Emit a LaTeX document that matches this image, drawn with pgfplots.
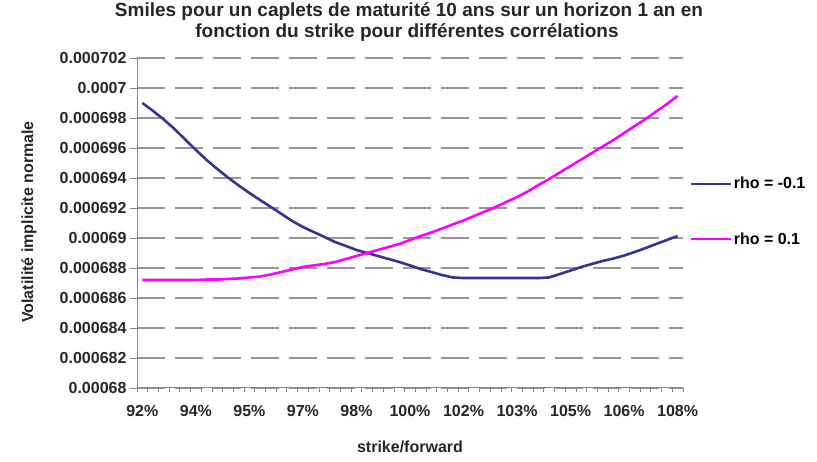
\documentclass[border=0pt]{standalone}
\usepackage{fontspec}
\setmainfont{Liberation Sans}
\usepackage{pgfplots}
\pgfplotsset{compat=1.18}
\definecolor{navyline}{RGB}{51,51,153}
\definecolor{pinkline}{RGB}{255,0,255}
\definecolor{gridgray}{RGB}{150,150,150}
\definecolor{axisgray}{RGB}{135,135,135}
\begin{document}
\begin{tikzpicture}[x=1pt,y=1pt]
\useasboundingbox (0,0) rectangle (817,462);
\begin{axis}[
  at={(137pt,74pt)}, anchor=south west,
  scale only axis, width=546pt, height=330pt,
  xmin=-0.5, xmax=50.5, ymin=0.00068, ymax=0.000702,
  scaled y ticks=false,
  axis x line=bottom, axis y line=left,
  axis line style={axisgray, line width=1pt, -},
  tick align=outside, major tick length=7pt, minor tick length=4pt,
  tick style={axisgray, line width=0.8pt},
  ytick={0.00068,0.000682,0.000684,0.000686,0.000688,0.00069,0.000692,0.000694,0.000696,0.000698,0.0007,0.000702},
  yticklabels={0.00068,0.000682,0.000684,0.000686,0.000688,0.00069,0.000692,0.000694,0.000696,0.000698,0.0007,0.000702},
  xtick={0,5,...,50},
  xticklabels={92\%,94\%,95\%,97\%,98\%,100\%,102\%,103\%,105\%,106\%,108\%},
  major x tick style={draw=none},
  minor xtick={-0.5,0.5,...,50.5},
  ymajorgrids,
  grid style={gridgray, line width=1.3pt, dash pattern=on 28pt off 10pt},
  ticklabel style={font=\fontsize{16}{18}\bfseries\selectfont, text=black!85},
  xticklabel style={yshift=-7pt},
  legend style={at={(1.0,0.535)}, anchor=west, xshift=6pt, draw=none, fill=none,
    font=\fontsize{16}{18}\bfseries\selectfont, row sep=38pt, inner sep=0pt},
  legend cell align=left,
  legend image code/.code={\draw[#1] (0pt,0pt) -- (40pt,0pt);},
  clip=false,
]
\addplot[navyline, line width=2.6pt] coordinates {
(0,0.0006990) (1,0.00069847) (2,0.0006979) (3,0.00069727) (4,0.00069657)
(5,0.00069587) (6,0.0006952) (7,0.0006946) (8,0.00069403) (9,0.0006935)
(10,0.000693) (11,0.00069253) (12,0.00069207) (13,0.0006916) (14,0.00069113)
(15,0.00069073) (16,0.0006904) (17,0.00069007) (18,0.00068973) (19,0.00068947)
(20,0.0006892) (21,0.000689) (22,0.0006888) (23,0.0006886) (24,0.0006884)
(25,0.00068817) (26,0.00068793) (27,0.00068773) (28,0.00068753) (29,0.00068737)
(30,0.00068733) (31,0.00068733) (32,0.00068733) (33,0.00068733) (34,0.00068733)
(35,0.00068733) (36,0.00068733) (37,0.00068733) (38,0.00068737) (39,0.0006876)
(40,0.00068783) (41,0.00068807) (42,0.00068827) (43,0.00068847) (44,0.00068863)
(45,0.00068883) (46,0.00068907) (47,0.00068933) (48,0.0006896) (49,0.00068987)
(50,0.00069013)
};
\addlegendentry{rho = -0.1}
\addplot[pinkline, line width=2.6pt] coordinates {
(0,0.0006872) (1,0.0006872) (2,0.0006872) (3,0.0006872) (4,0.0006872)
(5,0.0006872) (6,0.00068723) (7,0.00068723) (8,0.00068727) (9,0.0006873)
(10,0.00068737) (11,0.00068743) (12,0.00068757) (13,0.00068773) (14,0.0006879)
(15,0.00068807) (16,0.00068817) (17,0.00068827) (18,0.0006884) (19,0.0006886)
(20,0.0006888) (21,0.000689) (22,0.0006892) (23,0.0006894) (24,0.0006896)
(25,0.00068987) (26,0.00069013) (27,0.00069037) (28,0.00069063) (29,0.0006909)
(30,0.00069117) (31,0.00069147) (32,0.00069177) (33,0.00069207) (34,0.0006924)
(35,0.00069273) (36,0.0006931) (37,0.00069353) (38,0.00069393) (39,0.00069437)
(40,0.0006948) (41,0.00069523) (42,0.00069567) (43,0.0006961) (44,0.00069653)
(45,0.000697) (46,0.00069747) (47,0.00069793) (48,0.00069843) (49,0.00069893)
(50,0.00069947)
};
\addlegendentry{rho = 0.1}
\end{axis}
\node[anchor=base, font=\fontsize{19}{22}\bfseries\selectfont, text=black!85] at (409,445) {Smiles pour un caplets de maturité 10 ans sur un horizon 1 an en};
\node[anchor=base, font=\fontsize{19}{22}\bfseries\selectfont, text=black!85] at (407,424) {fonction du strike pour différentes corrélations};
\node[rotate=90, font=\fontsize{16}{18}\bfseries\selectfont, text=black!85] at (29,240) {Volatilité implicite normale};
\node[font=\fontsize{16}{18}\bfseries\selectfont, text=black!85] at (410,15) {strike/forward};
\end{tikzpicture}
\end{document}
